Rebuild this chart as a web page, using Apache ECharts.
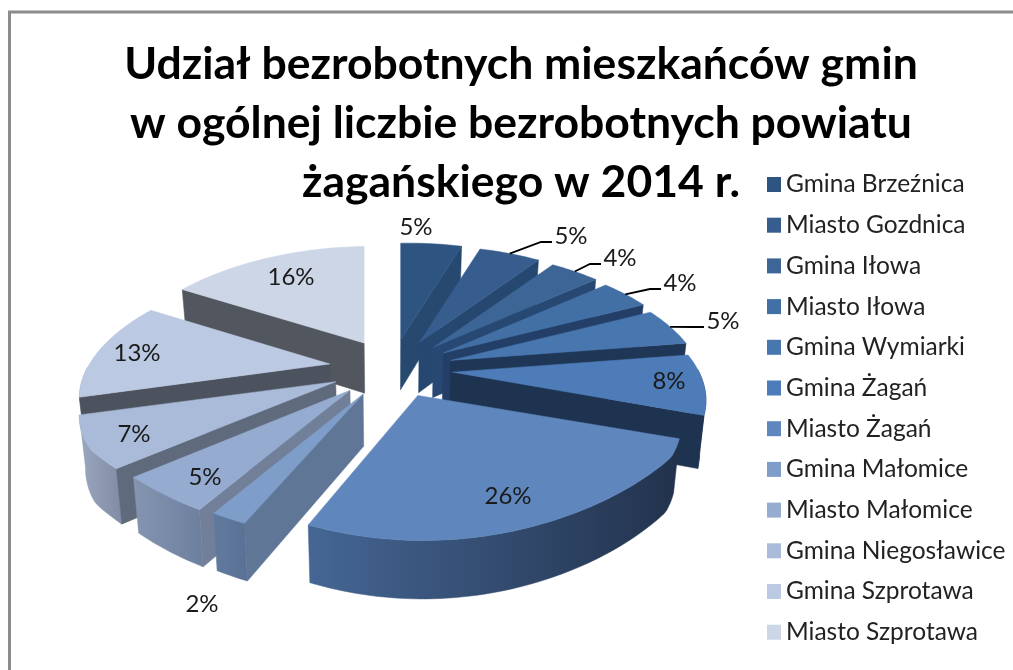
<!DOCTYPE html>
<html><head><meta charset="utf-8">
<style>html,body{margin:0;padding:0;background:#fff}#c{width:1013px;height:670px}</style>
<script src="https://cdn.jsdelivr.net/npm/echarts@6/dist/echarts.min.js"></script>
</head><body><div id="c"></div>
<script>
const titleText = 'Udział bezrobotnych mieszkańców gmin\nw ogólnej liczbie bezrobotnych powiatu\nżagańskiego w 2014 r.';
const categories = ['Gmina Brzeźnica','Miasto Gozdnica','Gmina Iłowa','Miasto Iłowa','Gmina Wymiarki','Gmina Żagań','Miasto Żagań','Gmina Małomice','Miasto Małomice','Gmina Niegosławice','Gmina Szprotawa','Miasto Szprotawa'];
const values = [5,5,4,4,5,8,26,2,5,7,13,16];
const topColors = ['#2e5482','#365d8e','#3d6697','#4370a4','#4876af','#4d7cb8','#5f87bd','#7f9dc9','#95abd0','#a9bbd9','#bcc9e2','#cdd6e6'];
const wallColors = ['#27486f','#264870','#274872','#233f68','#1f3656','#1e3350','#24364f','#5f7696','#717f99','#5f6b7d','#4d535e','#52565f'];
const arcLeft = ['#27486f','#264870','#274872','#233f68','#1f3656','#1e3350','#456694','#607a9e','#8595b0','#9aa7be','#9aa7be','#9aa7be'];
const arcRight = ['#27486f','#264870','#274872','#233f68','#1f3656','#1e3350','#22324c','#5a7194','#6c7f9e','#7f8ca3','#7f8ca3','#7f8ca3'];
const labelLayout = [[416,227],[571,236],[620,258],[680,283],[723,321],[669,381],[508,496],[202,604],[205,477],[134,434],[137,353],[291,277]];
const sliceShiftX = [0,0,0,0,0,0,4,2,0,0,0,3];
const rimShiftX = [0,0,0,0,0,0,10,1,0,-3,3,0];
const leaderSlices = [1,2,3,4];

// pie geometry (like a pie series' center / radius, with depth)
const PIE = {cx:391, cy:368.5, explodeX:62, explodeY:29, radiusX:245, radiusY:116, perspX:0.256, perspXFloor:-0.5, perspY:0.2, roll:3, taper:0.98, baseH:50, hGrow:0.042, refY:340};
const total = values.reduce((a,b)=>a+b,0);
const rad = d => d*Math.PI/180;
const sliceAngles = [];
values.reduce((acc,v)=>{ const s=acc/total*360, e=(acc+v)/total*360; sliceAngles.push([s,e]); return acc+v; },0);

function apexOf(i){
  const m = rad((sliceAngles[i][0]+sliceAngles[i][1])/2);
  return [PIE.cx+sliceShiftX[i]+PIE.explodeX*Math.sin(m), PIE.cy-PIE.explodeY*Math.cos(m)];
}
function rimPoint(i,deg){
  const a = apexOf(i), t = rad(deg), c = Math.cos(t), sn = Math.sin(t);
  return [a[0]+rimShiftX[i]+PIE.radiusX*sn/(1+PIE.perspX*Math.max(c,PIE.perspXFloor)),
          a[1]-PIE.radiusY*c/(1+PIE.perspY*c)-PIE.roll*sn];
}
function drop(p){
  return [PIE.cx+(p[0]-PIE.cx)*PIE.taper, p[1]+PIE.baseH+PIE.hGrow*(p[1]-PIE.refY)];
}
function arcPoints(i,s,e){
  const pts=[], n=Math.max(2,Math.ceil((e-s)/1.5));
  for(let k=0;k<=n;k++) pts.push(rimPoint(i,s+(e-s)*k/n));
  return pts;
}
const drawOrder = values.map((_,i)=>i).sort((a,b)=>{
  const c=j=>Math.cos(rad((sliceAngles[j][0]+sliceAngles[j][1])/2));
  return c(b)-c(a);
});

function renderSlice(params, api){
  const i = params.seriesIndex;
  const [s,e] = sliceAngles[i];
  const m = (s+e)/2;
  const a = apexOf(i);
  const kids = [];
  const poly = (points,fill)=>kids.push({type:'polygon',shape:{points},style:{fill,stroke:fill,lineWidth:0.5}});
  const fs = Math.max(s,90), fe = Math.min(e,270);
  if(fe>fs){
    const rim = arcPoints(i,fs,fe);
    poly(rim.concat(rim.map(drop).reverse()), new echarts.graphic.LinearGradient(0,0,1,0,[{offset:0,color:arcLeft[i]},{offset:1,color:arcRight[i]}]));
  }
  let cut = null;
  if(e<=180) cut = e; else if(s>=180) cut = s;
  if(cut!==null){
    const p = rimPoint(i,cut);
    poly([p,a,drop(a),drop(p)], wallColors[i]);
  }
  poly([a].concat(arcPoints(i,s,e)), topColors[i]);
  const [lx,ly] = labelLayout[i];
  if(leaderSlices.includes(i)){
    const mp = rimPoint(i,m);
    kids.push({type:'polyline',shape:{points:[mp,[lx-30,ly+6],[lx-19,ly+6]]},style:{stroke:'#000',lineWidth:1.8,fill:null}});
  }
  kids.push({type:'text',x:lx,y:ly,style:{text:Math.round(api.value(0)/total*100)+'%',fill:'#1a1a1a',font:'24px Lato',align:'center',verticalAlign:'middle'},z2:10});
  return {type:'group',children:kids};
}

const chart = echarts.init(document.getElementById('c'),null,{renderer:'canvas'});
chart.setOption({
  animation:false,
  backgroundColor:'#ffffff',
  color:topColors,
  title:{text:titleText,left:516,top:30,textAlign:'center',textStyle:{fontFamily:'Lato',fontWeight:'bold',fontSize:44.5,lineHeight:59,color:'#000'}},
  legend:{orient:'vertical',left:767,top:172,icon:'rect',itemWidth:14,itemHeight:15,itemGap:15.7,data:categories,selectedMode:false,padding:0,textStyle:{fontFamily:'Lato',fontSize:24.5,color:'#222'},itemStyle:{borderWidth:0}},
  graphic:[{type:'rect',shape:{x:9.5,y:12,width:1100,height:700},style:{fill:null,stroke:'#8c8c8c',lineWidth:3},silent:true}],
  series:categories.map((name,i)=>({type:'custom',name,coordinateSystem:'none',z:2+drawOrder.indexOf(i),silent:true,data:[[values[i]]],renderItem:renderSlice,itemStyle:{color:topColors[i]}}))
});
</script></body></html>
